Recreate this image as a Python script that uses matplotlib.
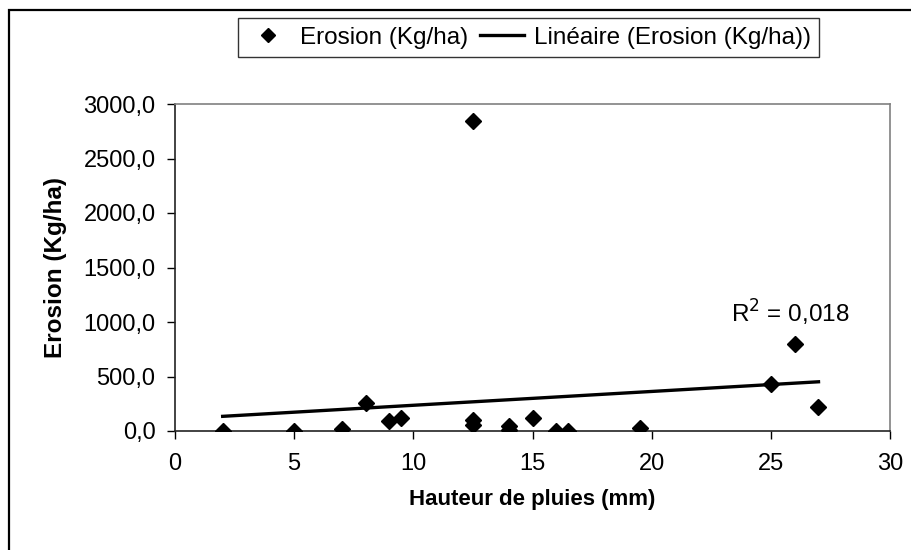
import numpy as np
import matplotlib
matplotlib.use("Agg")
import matplotlib.pyplot as plt
from matplotlib.patches import Rectangle
from matplotlib.lines import Line2D
from matplotlib.ticker import FuncFormatter, MultipleLocator

plt.rcParams['font.family'] = ['Liberation Sans', 'DejaVu Sans']

# Data
hauteur = [2, 5, 7, 8, 9, 9.5, 12.5, 12.5, 12.5, 14, 14, 15, 16, 16.5, 19.5, 25, 26, 27]
erosion = [0, 0, 15, 260, 88, 122, 2844, 100, 55, 50, 12, 120, 0, 0, 32, 430, 800, 220]
series_label = "Erosion (Kg/ha)"
trend_label = "Linéaire (Erosion (Kg/ha))"
r2_text = "R$^2$ = 0,018"
xlabel = "Hauteur de pluies (mm)"
ylabel = "Erosion (Kg/ha)"

W, H = 912, 550
fig = plt.figure(figsize=(W / 100, H / 100), dpi=100)

# outer chart border (extends beyond right/bottom edge like the reference crop)
fig.patches.append(Rectangle((9 / W, -0.1), 1.2, 1 - 10 / H + 0.1, transform=fig.transFigure,
                             fill=False, edgecolor='black', linewidth=1.6, zorder=0))

ax = fig.add_axes([175 / W, 1 - 431 / H, 715 / W, 327 / H])

x = np.array(hauteur, dtype=float)
y = np.array(erosion, dtype=float)
ax.plot(x, y, linestyle='none', marker='D', color='black', markersize=8, zorder=3)

coef = np.polyfit(x, y, 1)
xt = np.array([x.min(), x.max()])
ax.plot(xt, np.polyval(coef, xt), color='black', linewidth=2.4, zorder=2)

ax.set_xlim(0, 30)
ax.set_ylim(0, 3000)
ax.xaxis.set_major_locator(MultipleLocator(5))
ax.yaxis.set_major_locator(MultipleLocator(500))
ax.yaxis.set_major_formatter(FuncFormatter(lambda v, p: f"{v:.1f}".replace('.', ',')))
ax.tick_params(axis='both', direction='out', length=6, width=1, labelsize=17, colors='black')
ax.tick_params(axis='x', pad=10)
ax.tick_params(axis='y', pad=8)

for s in ['top', 'right']:
    ax.spines[s].set_color('#808080')
    ax.spines[s].set_linewidth(1.2)
for s in ['left', 'bottom']:
    ax.spines[s].set_color('#222222')
    ax.spines[s].set_linewidth(1.2)

ax.set_xlabel(xlabel, fontsize=16, fontweight='bold', labelpad=10)
ax.set_ylabel(ylabel, fontsize=17.5, fontweight='bold', labelpad=12)

ax.text(25.8, 1080, r2_text, fontsize=17.5, ha='center', va='center')

handles = [Line2D([], [], linestyle='none', marker='D', color='black', markersize=7),
           Line2D([], [], color='black', linewidth=2.4)]
leg = fig.legend(handles, [series_label, trend_label], loc='center',
                 bbox_to_anchor=(528.5 / W, 1 - 37.5 / H), ncol=2, fontsize=17.5,
                 frameon=True, fancybox=False, edgecolor='black', handlelength=1.8,
                 handletextpad=0.4, columnspacing=0.5, borderpad=0.35, borderaxespad=0.0)
leg.get_frame().set_linewidth(1.0)
leg._legend_box.align = "center"
fig.canvas.draw()
# widen the frame padding horizontally to match reference box extents
leg.borderpad = 0.35

fig.savefig("out.png", dpi=100)
